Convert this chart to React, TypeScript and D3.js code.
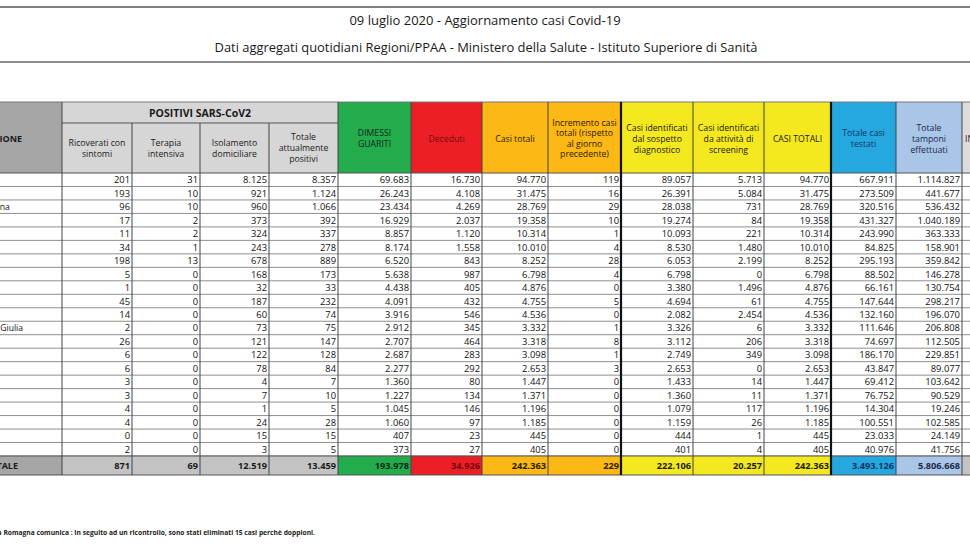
import React from 'react';
import * as d3 from 'd3';

// rows (region names are partly cut off on the left in the source image)
const regions = [
  'Lombardia', 'Piemonte', 'Emilia-Romagna', 'Veneto', 'Toscana', 'Liguria', 'Lazio',
  'Marche', 'Campania', 'Puglia', 'P.A. Trento', 'Friuli Venezia Giulia', 'Sicilia',
  'Abruzzo', 'P.A. Bolzano', 'Umbria', 'Sardegna', "Valle d'Aosta", 'Calabria', 'Molise', 'Basilicata',
];

const ricoverati = [201, 193, 96, 17, 11, 34, 198, 5, 1, 45, 14, 2, 26, 6, 6, 3, 3, 4, 4, 0, 2];
const terapia = [31, 10, 10, 2, 2, 1, 13, 0, 0, 0, 0, 0, 0, 0, 0, 0, 0, 0, 0, 0, 0];
const isolamento = [8125, 921, 960, 373, 324, 243, 678, 168, 32, 187, 60, 73, 121, 122, 78, 4, 7, 1, 24, 15, 3];
const totalePositivi = [8357, 1124, 1066, 392, 337, 278, 889, 173, 33, 232, 74, 75, 147, 128, 84, 7, 10, 5, 28, 15, 5];
const dimessi = [69683, 26243, 23434, 16929, 8857, 8174, 6520, 5638, 4438, 4091, 3916, 2912, 2707, 2687, 2277, 1360, 1227, 1045, 1060, 407, 373];
const deceduti = [16730, 4108, 4269, 2037, 1120, 1558, 843, 987, 405, 432, 546, 345, 464, 283, 292, 80, 134, 146, 97, 23, 27];
const casiTotali = [94770, 31475, 28769, 19358, 10314, 10010, 8252, 6798, 4876, 4755, 4536, 3332, 3318, 3098, 2653, 1447, 1371, 1196, 1185, 445, 405];
const incremento = [119, 16, 29, 10, 1, 4, 28, 4, 0, 5, 0, 1, 8, 1, 3, 0, 0, 0, 0, 0, 0];
const sospetto = [89057, 26391, 28038, 19274, 10093, 8530, 6053, 6798, 3380, 4694, 2082, 3326, 3112, 2749, 2653, 1433, 1360, 1079, 1159, 444, 401];
const screening = [5713, 5084, 731, 84, 221, 1480, 2199, 0, 1496, 61, 2454, 6, 206, 349, 0, 14, 11, 117, 26, 1, 4];
const testati = [667911, 273509, 320516, 431327, 243990, 84825, 295193, 88502, 66161, 147644, 132160, 111646, 74697, 186170, 43847, 69412, 76752, 14304, 100551, 23033, 40976];
const tamponi = [1114827, 441677, 536432, 1040189, 363333, 158901, 359842, 146278, 130754, 298217, 196070, 206808, 112505, 229851, 89077, 103642, 90529, 19246, 102585, 24149, 41756];

const totals = [871, 69, 12519, 13459, 193978, 34926, 242363, 229, 222106, 20257, 242363, 3493126, 5806668];

const FONT = "'Open Sans', 'Liberation Sans', sans-serif";
const W = 970;
const H = 545;

const itFormat = d3.formatLocale({ decimal: ',', thousands: '.', grouping: [3], currency: ['€', ''] }).format(',d');

type Col = {
  values: number[] | null;
  lines: string[];
  fill: string;
  totalFill: string;
  color: string;
  sub: boolean;
};

const columns: Col[] = [
  { values: ricoverati, lines: ['Ricoverati con', 'sintomi'], fill: '#d6d6d6', totalFill: '#c3c3c3', color: '#1a1a1a', sub: true },
  { values: terapia, lines: ['Terapia', 'intensiva'], fill: '#d6d6d6', totalFill: '#c3c3c3', color: '#1a1a1a', sub: true },
  { values: isolamento, lines: ['Isolamento', 'domiciliare'], fill: '#d6d6d6', totalFill: '#c3c3c3', color: '#1a1a1a', sub: true },
  { values: totalePositivi, lines: ['Totale', 'attualmente', 'positivi'], fill: '#d6d6d6', totalFill: '#c3c3c3', color: '#1a1a1a', sub: true },
  { values: dimessi, lines: ['DIMESSI', 'GUARITI'], fill: '#22ac4c', totalFill: '#22ac4c', color: '#13261a', sub: false },
  { values: deceduti, lines: ['Deceduti'], fill: '#ec1f27', totalFill: '#ec1f27', color: '#6e0c0c', sub: false },
  { values: casiTotali, lines: ['Casi totali'], fill: '#fcb814', totalFill: '#fcb814', color: '#2a2000', sub: false },
  { values: incremento, lines: ['Incremento casi', 'totali (rispetto', 'al giorno', 'precedente)'], fill: '#fcb814', totalFill: '#fcb814', color: '#2a2000', sub: false },
  { values: sospetto, lines: ['Casi identificati', 'dal sospetto', 'diagnostico'], fill: '#f4e81e', totalFill: '#f4e81e', color: '#1a1a1a', sub: false },
  { values: screening, lines: ['Casi identificati', 'da attività di', 'screening'], fill: '#f4e81e', totalFill: '#f4e81e', color: '#1a1a1a', sub: false },
  { values: casiTotali, lines: ['CASI TOTALI'], fill: '#f4e81e', totalFill: '#f4e81e', color: '#1a1a1a', sub: false },
  { values: testati, lines: ['Totale casi', 'testati'], fill: '#25a8e0', totalFill: '#25a8e0', color: '#143561', sub: false },
  { values: tamponi, lines: ['Totale', 'tamponi', 'effettuati'], fill: '#a9c5e8', totalFill: '#a9c5e8', color: '#1d2a44', sub: false },
  { values: null, lines: ['INCREMENTO'], fill: '#dcdcdc', totalFill: '#c3c3c3', color: '#1a1a1a', sub: false },
];

// column edges (layout)
const edges = [-90, 62, 132, 200, 269, 338, 411, 482, 548, 621, 693, 764, 831, 896, 962, 1040];

const headTop = 102;
const subTop = 123;
const headBottom = 173;
const totalTop = 456;
const totalBottom = 475;
const nameX = -55;

const App = () => {
  const y = d3.scaleBand<string>().domain(regions).range([headBottom, totalTop]).padding(0);
  const rh = y.bandwidth();

  return (
    <svg width={W} height={H} style={{ position: 'absolute', left: 0, top: 0, background: '#fff' }} fontFamily={FONT}>
      {/* title block */}
      <line x1={0} x2={W} y1={7} y2={7} stroke="#555" strokeWidth={1.5} />
      <text x={485} y={20} textAnchor="middle" dominantBaseline="central" fontSize={13} fill="#1a1a1a">
        09 luglio 2020 - Aggiornamento casi Covid-19
      </text>
      <text x={486} y={47} textAnchor="middle" dominantBaseline="central" fontSize={12.9} fill="#1a1a1a">
        Dati aggregati quotidiani Regioni/PPAA - Ministero della Salute - Istituto Superiore di Sanità
      </text>
      <line x1={0} x2={W} y1={62} y2={62} stroke="#666" strokeWidth={1.5} />

      {/* header cells */}
      <rect x={edges[0]} y={headTop} width={edges[1] - edges[0]} height={headBottom - headTop} fill="#a6a6a6" />
      <text x={22} y={138} textAnchor="end" dominantBaseline="central" fontSize={9} fontWeight="bold" fill="#1a1a1a">REGIONE</text>
      <rect x={edges[1]} y={headTop} width={edges[5] - edges[1]} height={subTop - headTop} fill="#d6d6d6" />
      <text x={(edges[1] + edges[5]) / 2} y={112.5} textAnchor="middle" dominantBaseline="central" fontSize={10.5} fontWeight="bold" fill="#1a1a1a">
        POSITIVI SARS-CoV2
      </text>
      {columns.map((c, i) => {
        const x0 = edges[i + 1];
        const x1 = edges[i + 2];
        const top = c.sub ? subTop : headTop;
        const cy = (top + headBottom) / 2 + (c.sub ? 0 : 1);
        const lh = c.lines.length > 3 ? 10.5 : 11;
        const partial = c.values === null;
        return (
          <g key={'h' + i}>
            <rect x={x0} y={top} width={x1 - x0} height={headBottom - top} fill={c.fill} />
            {c.lines.map((l, j) => (
              <text
                key={j}
                x={partial ? x0 + 3 : (x0 + x1) / 2}
                y={cy + (j - (c.lines.length - 1) / 2) * lh}
                textAnchor={partial ? 'start' : 'middle'}
                dominantBaseline="central"
                fontSize={8.7}
                fill={c.color}
              >
                {l}
              </text>
            ))}
          </g>
        );
      })}

      {/* data rows */}
      {regions.map((r, ri) => (
        <g key={r}>
          <text x={nameX} y={y(r)! + rh / 2} dominantBaseline="central" fontSize={8.6} fill="#111">{r}</text>
          {columns.map((c, i) =>
            c.values ? (
              <text
                key={i}
                x={edges[i + 2] - 2}
                y={y(r)! + rh / 2}
                textAnchor="end"
                dominantBaseline="central"
                fontSize={9.4}
                fill="#111"
              >
                {itFormat(c.values[ri])}
              </text>
            ) : null
          )}
          <line x1={0} x2={W} y1={y(r)! + rh} y2={y(r)! + rh} stroke="#8f8f8f" strokeWidth={1} />
        </g>
      ))}

      {/* total row */}
      <rect x={edges[0]} y={totalTop} width={edges[1] - edges[0]} height={totalBottom - totalTop} fill="#a6a6a6" />
      <text x={18} y={(totalTop + totalBottom) / 2} textAnchor="end" dominantBaseline="central" fontSize={9} fontWeight="bold" fill="#1a1a1a">TOTALE</text>
      {columns.map((c, i) => (
        <g key={'t' + i}>
          <rect x={edges[i + 1]} y={totalTop} width={edges[i + 2] - edges[i + 1]} height={totalBottom - totalTop} fill={c.totalFill} />
          {i < totals.length ? (
            <text
              x={edges[i + 2] - 2}
              y={(totalTop + totalBottom) / 2}
              textAnchor="end"
              dominantBaseline="central"
              fontSize={9.2}
              fontWeight="bold"
              fill={c.color}
            >
              {itFormat(totals[i])}
            </text>
          ) : null}
        </g>
      ))}

      {/* grid lines */}
      <line x1={0} x2={W} y1={headTop} y2={headTop} stroke="#777" strokeWidth={1} />
      <line x1={edges[1]} x2={edges[5]} y1={subTop} y2={subTop} stroke="#555" strokeWidth={1} />
      <line x1={0} x2={W} y1={headBottom} y2={headBottom} stroke="#555" strokeWidth={1} />
      <line x1={0} x2={W} y1={totalTop} y2={totalTop} stroke="#555" strokeWidth={1} />
      <line x1={0} x2={W} y1={totalBottom} y2={totalBottom} stroke="#555" strokeWidth={1} />
      {edges.slice(1, -1).map((e, i) => {
        const thick = e === 621 || e === 831;
        const top = i >= 1 && i <= 3 ? subTop : headTop;
        return (
          <line key={'v' + i} x1={e} x2={e} y1={top} y2={totalBottom} stroke={thick ? '#111' : '#444'} strokeWidth={thick ? 2.2 : 1} />
        );
      })}

      {/* footnote */}
      <text x={315} y={532} textAnchor="end" dominantBaseline="central" fontSize={6.7} fontWeight="bold" fill="#1a1a1a">
        *Emilia Romagna comunica : In seguito ad un ricontrollo, sono stati eliminati 15 casi perchè  doppioni.
      </text>
    </svg>
  );
};

export default App;
